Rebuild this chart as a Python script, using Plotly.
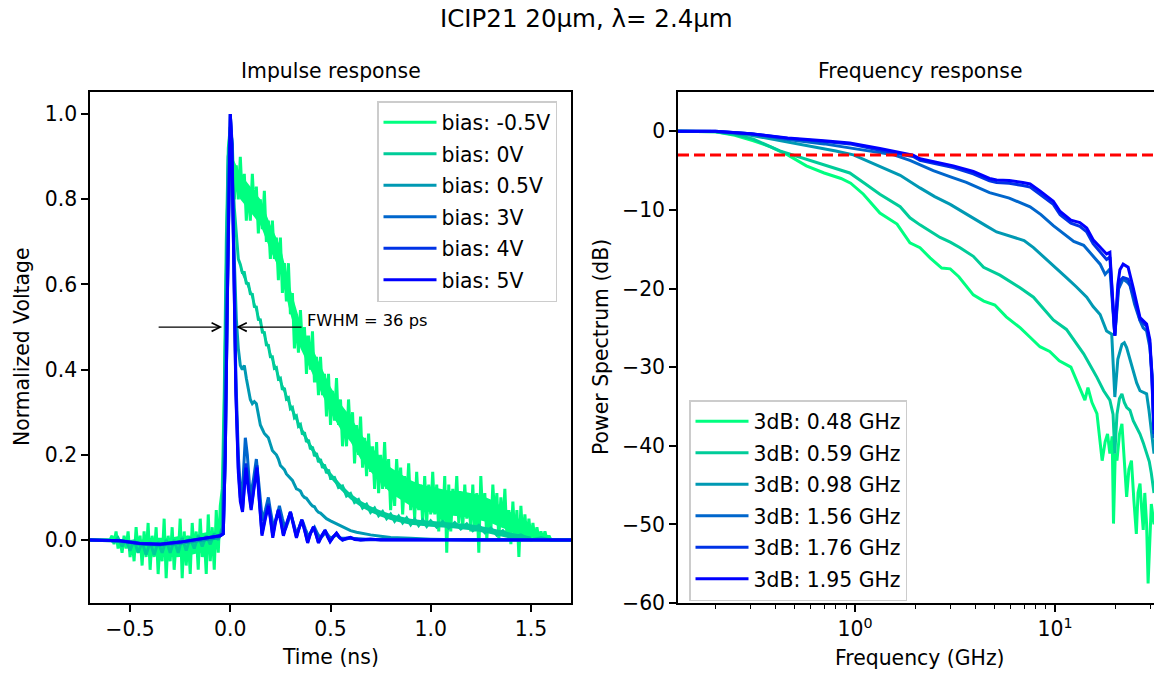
import math
import plotly.graph_objects as go

FIG_W, FIG_H = 1154, 675
FONT = "DejaVu Sans"

# ---------------- Impulse response (time in ns, normalized voltage) ----------------
T_M05 = [-0.70, -0.65,
         -0.60, -0.59, -0.58, -0.57, -0.56, -0.55, -0.54, -0.53, -0.52, -0.51,
         -0.50, -0.49, -0.48, -0.47, -0.46, -0.45, -0.44, -0.43, -0.42, -0.41,
         -0.40, -0.39, -0.38, -0.37, -0.36, -0.35, -0.34, -0.33, -0.32, -0.31,
         -0.30, -0.29, -0.28, -0.27, -0.26, -0.25, -0.24, -0.23, -0.22, -0.21,
         -0.20, -0.19, -0.18, -0.17, -0.16, -0.15, -0.14, -0.13, -0.12, -0.11,
         -0.10, -0.09, -0.08, -0.07, -0.06, -0.05, -0.04, -0.03, -0.02, -0.01,
         0.00, 0.01, 0.02, 0.03, 0.04, 0.05, 0.06, 0.07, 0.08, 0.09,
         0.10, 0.11, 0.12, 0.13, 0.14, 0.15, 0.16, 0.17, 0.18, 0.19,
         0.20, 0.21, 0.22, 0.23, 0.24, 0.25, 0.26, 0.27, 0.28, 0.29,
         0.30, 0.31, 0.32, 0.33, 0.34, 0.35, 0.36, 0.37, 0.38, 0.39,
         0.40, 0.41, 0.42, 0.43, 0.44, 0.45, 0.46, 0.47, 0.48, 0.49,
         0.50, 0.51, 0.52, 0.53, 0.54, 0.55, 0.56, 0.57, 0.58, 0.59,
         0.60, 0.61, 0.62, 0.63, 0.64, 0.65, 0.66, 0.67, 0.68, 0.69,
         0.70, 0.71, 0.72, 0.73, 0.74, 0.75, 0.76, 0.77, 0.78, 0.79,
         0.80, 0.81, 0.82, 0.83, 0.84, 0.85, 0.86, 0.87, 0.88, 0.89,
         0.90, 0.91, 0.92, 0.93, 0.94, 0.95, 0.96, 0.97, 0.98, 0.99,
         1.00, 1.01, 1.02, 1.03, 1.04, 1.05, 1.06, 1.07, 1.08, 1.09,
         1.10, 1.11, 1.12, 1.13, 1.14, 1.15, 1.16, 1.17, 1.18, 1.19,
         1.20, 1.21, 1.22, 1.23, 1.24, 1.25, 1.26, 1.27, 1.28, 1.29,
         1.30, 1.31, 1.32, 1.33, 1.34, 1.35, 1.36, 1.37, 1.38, 1.39,
         1.40, 1.41, 1.42, 1.43, 1.44, 1.45, 1.46, 1.47, 1.48, 1.49,
         1.50, 1.51, 1.52, 1.53, 1.54, 1.55, 1.56, 1.57, 1.58, 1.59,
         1.60, 1.65, 1.70]
V_M05 = [0.00, 0.00,
         0.00, 0.01, -0.01, 0.02, -0.02, 0.00, -0.03, 0.01, -0.02, 0.02,
         -0.04, 0.00, -0.05, 0.03, -0.03, 0.01, -0.06, 0.02, -0.04, 0.04,
         -0.07, 0.01, -0.04, 0.03, -0.08, 0.00, -0.05, 0.05, -0.09, 0.01,
         -0.05, 0.03, -0.07, 0.00, -0.04, 0.05, -0.09, 0.02, -0.06, 0.01,
         -0.08, 0.04, -0.03, 0.02, -0.07, 0.05, -0.04, 0.01, -0.08, 0.06,
         -0.05, 0.03, -0.07, 0.07, -0.03, 0.08, 0.12, 0.35, 0.70, 0.92,
         0.97, 0.93, 0.80, 0.88, 0.80, 0.90, 0.80, 0.86, 0.75, 0.83,
         0.75, 0.86, 0.77, 0.83, 0.72, 0.80, 0.73, 0.82, 0.70, 0.75,
         0.66, 0.75, 0.66, 0.71, 0.61, 0.71, 0.58, 0.65, 0.56, 0.65,
         0.53, 0.58, 0.45, 0.52, 0.44, 0.54, 0.45, 0.50, 0.39, 0.48,
         0.40, 0.49, 0.37, 0.43, 0.34, 0.43, 0.34, 0.39, 0.29, 0.39,
         0.27, 0.35, 0.28, 0.38, 0.27, 0.33, 0.22, 0.30, 0.22, 0.33,
         0.24, 0.30, 0.18, 0.27, 0.20, 0.29, 0.17, 0.24, 0.15, 0.25,
         0.16, 0.22, 0.12, 0.23, 0.11, 0.20, 0.12, 0.23, 0.12, 0.19,
         0.07, 0.16, 0.08, 0.19, 0.11, 0.17, 0.06, 0.15, 0.09, 0.18,
         0.07, 0.13, 0.05, 0.16, 0.07, 0.13, 0.04, 0.15, 0.04, 0.13,
         0.06, 0.16, 0.06, 0.13, 0.02, 0.11, 0.04, 0.15, -0.03, 0.13,
         0.02, 0.12, 0.06, 0.15, 0.04, 0.11, 0.03, 0.13, 0.05, 0.11,
         0.02, 0.13, 0.02, 0.11, -0.03, 0.15, 0.05, 0.11, 0.00, 0.09,
         0.02, 0.13, 0.05, 0.11, 0.00, 0.10, 0.03, 0.12, 0.01, 0.07,
         -0.01, 0.09, 0.00, 0.07, -0.04, 0.08, 0.00, 0.06, 0.00, 0.05,
         0.00, 0.04, 0.00, 0.03, 0.00, 0.02, 0.00, 0.02, 0.00, 0.01,
         0.00, 0.00, 0.00]

# dense core of the noisy -0.5 V trace (inner edges of the band)
T_CORE_PRE = [-0.50, -0.45, -0.40, -0.35, -0.30, -0.25, -0.20, -0.15, -0.10, -0.06]
HI_CORE_PRE = [-0.005, 0.0, 0.005, 0.005, 0.005, 0.01, 0.01, 0.015, 0.02, 0.02]
LO_CORE_PRE = [-0.02, -0.03, -0.035, -0.04, -0.04, -0.04, -0.035, -0.03, -0.03, -0.02]
T_CORE = [0.01, 0.05, 0.10, 0.15, 0.20, 0.25, 0.30, 0.35, 0.40, 0.45,
          0.50, 0.55, 0.60, 0.65, 0.70, 0.75, 0.80, 0.85, 0.90, 0.95,
          1.00, 1.05, 1.10, 1.15, 1.20, 1.25, 1.30, 1.35, 1.40, 1.45,
          1.50, 1.55]
HI_CORE = [0.90, 0.86, 0.83, 0.80, 0.74, 0.69, 0.59, 0.51, 0.46, 0.41,
           0.36, 0.32, 0.29, 0.25, 0.22, 0.195, 0.17, 0.155, 0.14, 0.13,
           0.125, 0.12, 0.115, 0.115, 0.11, 0.105, 0.095, 0.08, 0.065, 0.045,
           0.03, 0.015]
LO_CORE = [0.84, 0.80, 0.77, 0.74, 0.68, 0.63, 0.53, 0.45, 0.40, 0.35,
           0.30, 0.26, 0.23, 0.19, 0.16, 0.135, 0.11, 0.095, 0.08, 0.07,
           0.065, 0.06, 0.057, 0.055, 0.052, 0.046, 0.04, 0.03, 0.02, 0.012,
           0.006, 0.002]

T_0V = [-0.70, -0.60, -0.58, -0.56, -0.54, -0.52, -0.50, -0.48, -0.46, -0.44,
        -0.42, -0.40, -0.38, -0.36, -0.34, -0.32, -0.30, -0.28, -0.26, -0.24,
        -0.22, -0.20, -0.18, -0.16, -0.14, -0.12, -0.10, -0.08, -0.06, -0.04,
        -0.03, -0.02, -0.01, 0.00, 0.01, 0.02, 0.03, 0.04, 0.05, 0.06,
        0.07, 0.08, 0.09, 0.10, 0.11, 0.12, 0.13, 0.14, 0.15, 0.16,
        0.17, 0.18, 0.19, 0.20, 0.21, 0.22, 0.23, 0.24, 0.25, 0.26,
        0.27, 0.28, 0.29, 0.30, 0.31, 0.32, 0.33, 0.34, 0.35, 0.36,
        0.37, 0.38, 0.39, 0.40, 0.41, 0.42, 0.43, 0.44, 0.45, 0.46,
        0.47, 0.48, 0.49, 0.50, 0.52, 0.54, 0.56, 0.58, 0.60, 0.62,
        0.64, 0.66, 0.68, 0.70, 0.72, 0.74, 0.76, 0.78, 0.80, 0.82,
        0.84, 0.86, 0.88, 0.90, 0.92, 0.94, 0.96, 0.98, 1.00, 1.03,
        1.06, 1.09, 1.12, 1.15, 1.18, 1.21, 1.24, 1.27, 1.30, 1.33,
        1.36, 1.40, 1.45, 1.50, 1.55, 1.60, 1.70]
V_0V = [0.0, 0.0, -0.005, 0.005, -0.015, 0.0, -0.025, 0.0, -0.03, -0.005,
        -0.035, -0.005, -0.035, -0.005, -0.03, 0.0, -0.03, 0.0, -0.03, 0.005,
        -0.025, 0.005, -0.02, 0.01, -0.015, 0.01, -0.01, 0.015, 0.0, 0.03,
        0.30, 0.65, 0.90, 0.95, 0.88, 0.78, 0.71, 0.66, 0.647, 0.628,
        0.628, 0.603, 0.602, 0.578, 0.577, 0.548, 0.547, 0.518, 0.517, 0.488,
        0.487, 0.458, 0.457, 0.430, 0.430, 0.403, 0.405, 0.378, 0.380, 0.353,
        0.357, 0.331, 0.334, 0.308, 0.311, 0.287, 0.291, 0.267, 0.271, 0.248,
        0.253, 0.230, 0.235, 0.213, 0.219, 0.197, 0.204, 0.183, 0.190, 0.169,
        0.177, 0.157, 0.165, 0.145, 0.147, 0.123, 0.127, 0.103, 0.109, 0.088,
        0.095, 0.075, 0.084, 0.065, 0.075, 0.057, 0.067, 0.050, 0.061, 0.044,
        0.056, 0.040, 0.052, 0.036, 0.049, 0.034, 0.047, 0.032, 0.045, 0.030,
        0.043, 0.028, 0.041, 0.026, 0.038, 0.022, 0.034, 0.017, 0.028, 0.011,
        0.022, 0.004, 0.012, 0.0, 0.005, 0.0, 0.0]

# dense core of the 0 V band
T_CORE_0V = [0.05, 0.10, 0.15, 0.20, 0.25, 0.30, 0.35, 0.40, 0.45, 0.50,
             0.55, 0.60, 0.65, 0.70, 0.75, 0.80, 0.85, 0.90, 0.95, 1.00,
             1.10, 1.20, 1.30, 1.40, 1.50]
HI_CORE_0V = [0.647, 0.592, 0.517, 0.444, 0.380, 0.322, 0.271, 0.227, 0.190, 0.159,
              0.132, 0.109, 0.092, 0.079, 0.069, 0.061, 0.055, 0.050, 0.047, 0.045,
              0.042, 0.037, 0.028, 0.017, 0.008]
LO_CORE_0V = [0.633, 0.578, 0.503, 0.430, 0.366, 0.308, 0.257, 0.213, 0.176, 0.145,
              0.118, 0.095, 0.078, 0.065, 0.055, 0.047, 0.041, 0.036, 0.033, 0.031,
              0.028, 0.023, 0.014, 0.003, 0.0]

T_05V = [-0.70, -0.55, -0.45, -0.35, -0.25, -0.15, -0.06, -0.04, -0.03, -0.02,
         -0.01, 0.00, 0.01, 0.02, 0.03, 0.04, 0.05, 0.06, 0.07, 0.08,
         0.09, 0.10, 0.11, 0.12, 0.13, 0.14, 0.15, 0.16, 0.17, 0.18,
         0.19, 0.20, 0.21, 0.22, 0.23, 0.24, 0.25, 0.26, 0.27, 0.28,
         0.29, 0.30, 0.31, 0.32, 0.33, 0.34, 0.35, 0.36, 0.37, 0.38,
         0.39, 0.40, 0.41, 0.42, 0.43, 0.44, 0.45, 0.46, 0.48, 0.50,
         0.52, 0.54, 0.56, 0.58, 0.60, 0.63, 0.66, 0.70, 0.75, 0.80,
         0.90, 1.00, 1.20, 1.70]
V_05V = [0.0, -0.003, -0.01, -0.012, -0.008, -0.002, 0.005, 0.02, 0.25, 0.62,
         0.90, 0.97, 0.85, 0.66, 0.52, 0.45, 0.41, 0.40, 0.41, 0.38,
         0.35, 0.33, 0.32, 0.325, 0.32, 0.29, 0.27, 0.26, 0.25, 0.245,
         0.24, 0.225, 0.21, 0.205, 0.20, 0.19, 0.175, 0.17, 0.165, 0.155,
         0.15, 0.145, 0.14, 0.13, 0.12, 0.118, 0.115, 0.105, 0.10, 0.098,
         0.09, 0.085, 0.08, 0.078, 0.07, 0.065, 0.063, 0.058, 0.05, 0.045,
         0.04, 0.035, 0.03, 0.027, 0.022, 0.018, 0.015, 0.012, 0.009, 0.006,
         0.004, 0.002, 0.0, 0.0]

T_3V = [-0.70, -0.55, -0.45, -0.35, -0.25, -0.15, -0.05, -0.035, -0.025, -0.015,
        -0.005, 0.00, 0.008, 0.018, 0.028, 0.04, 0.05, 0.058, 0.066, 0.075,
        0.085, 0.10, 0.115, 0.13, 0.145, 0.16, 0.175, 0.19, 0.20, 0.215,
        0.23, 0.245, 0.26, 0.275, 0.29, 0.30, 0.315, 0.33, 0.345, 0.36,
        0.375, 0.39, 0.405, 0.42, 0.435, 0.45, 0.465, 0.475, 0.49, 0.50,
        0.515, 0.53, 0.55, 0.60, 0.70, 1.70]
V_3V = [0.0, -0.002, -0.008, -0.01, -0.005, 0.003, 0.01, 0.015, 0.2, 0.55,
        0.9, 1.0, 0.94, 0.62, 0.38, 0.20, 0.12, 0.09, 0.17, 0.24,
        0.20, 0.10, 0.14, 0.19, 0.12, 0.045, 0.07, 0.10, 0.07, 0.03,
        0.05, 0.08, 0.05, 0.025, 0.045, 0.065, 0.04, 0.015, 0.03, 0.045,
        0.025, 0.008, 0.02, 0.03, 0.015, 0.004, 0.012, 0.02, 0.01, 0.004,
        0.008, 0.012, 0.004, 0.004, 0.001, 0.0]

T_4V = [-0.70, -0.55, -0.45, -0.35, -0.25, -0.15, -0.05, -0.035, -0.025, -0.015,
        -0.005, 0.00, 0.008, 0.018, 0.028, 0.04, 0.05, 0.061, 0.07, 0.078,
        0.09, 0.104, 0.118, 0.133, 0.145, 0.158, 0.175, 0.19, 0.20, 0.212,
        0.225, 0.24, 0.253, 0.265, 0.283, 0.30, 0.315, 0.33, 0.345, 0.357,
        0.372, 0.386, 0.40, 0.415, 0.428, 0.44, 0.457, 0.473, 0.485, 0.498,
        0.515, 0.53, 0.545, 0.56, 0.60, 0.65, 0.75, 1.70]
V_4V = [0.0, -0.002, -0.008, -0.01, -0.005, 0.003, 0.01, 0.015, 0.2, 0.56,
        0.91, 1.0, 0.93, 0.61, 0.35, 0.17, 0.10, 0.07, 0.13, 0.18,
        0.13, 0.075, 0.125, 0.175, 0.095, 0.015, 0.055, 0.085, 0.055, 0.01,
        0.045, 0.072, 0.045, 0.012, 0.042, 0.066, 0.037, 0.007, 0.032, 0.048,
        0.022, -0.005, 0.016, 0.031, 0.013, -0.006, 0.011, 0.023, 0.009, -0.003,
        0.008, 0.016, 0.006, 0.0, 0.005, 0.0, 0.001, 0.0]

T_5V = [-0.70, -0.55, -0.45, -0.35, -0.25, -0.15, -0.05, -0.035, -0.025, -0.015,
        -0.005, 0.00, 0.008, 0.018, 0.028, 0.04, 0.05, 0.061, 0.07, 0.078,
        0.09, 0.104, 0.118, 0.133, 0.145, 0.158, 0.175, 0.19, 0.20, 0.212,
        0.225, 0.24, 0.253, 0.265, 0.283, 0.30, 0.315, 0.33, 0.345, 0.357,
        0.372, 0.386, 0.40, 0.415, 0.428, 0.44, 0.457, 0.473, 0.485, 0.498,
        0.515, 0.53, 0.545, 0.56, 0.58, 0.60, 0.62, 0.65, 0.70, 0.75, 1.70]
V_5V = [0.0, -0.002, -0.008, -0.01, -0.005, 0.003, 0.01, 0.015, 0.2, 0.56,
        0.92, 1.0, 0.93, 0.60, 0.34, 0.16, 0.09, 0.066, 0.12, 0.17,
        0.12, 0.07, 0.12, 0.17, 0.09, 0.01, 0.05, 0.08, 0.05, 0.005,
        0.04, 0.07, 0.04, 0.01, 0.04, 0.066, 0.035, 0.005, 0.03, 0.047,
        0.02, -0.007, 0.015, 0.031, 0.012, -0.007, 0.01, 0.023, 0.008, -0.004,
        0.008, 0.016, 0.006, 0.0, 0.004, 0.006, 0.001, 0.0, 0.002, 0.0, 0.0]

BIAS_LABELS = ["bias: -0.5V", "bias: 0V", "bias: 0.5V", "bias: 3V", "bias: 4V", "bias: 5V"]

# FWHM annotation (ns, normalized voltage)
FWHM_TEXT = "FWHM = 36 ps"
FWHM_LEVEL = 0.5
FWHM_LEFT_TAIL, FWHM_LEFT_HEAD = -0.365, -0.041
FWHM_RIGHT_TAIL, FWHM_RIGHT_HEAD = 0.363, 0.030

# ---------------- Frequency response (GHz, dB) ----------------
F_048 = [0.13, 0.16, 0.20, 0.25, 0.31, 0.38, 0.46, 0.57, 0.70, 0.85,
         0.95, 1.10, 1.33, 1.62, 1.88, 2.11, 2.37, 2.71, 2.99, 3.30,
         3.90, 4.40, 5.00, 5.70, 6.70, 7.50, 8.40, 9.40, 10.5, 12.0,
         13.3, 14.1, 14.6, 15.3, 16.2, 17.2, 17.8, 18.3, 18.8, 19.3,
         19.6, 20.0, 20.4, 21.0, 21.6, 22.2, 22.8, 23.4, 24.1, 24.8,
         25.5, 26.0, 26.6, 27.1, 27.6, 28.1, 28.7, 29.2, 29.7, 30.3, 31.25]
P_048 = [0.0, 0.0, -0.05, -0.5, -1.2, -2.0, -3.0, -4.4, -5.3, -6.0,
         -6.6, -8.0, -10.4, -11.8, -14.2, -14.8, -16.1, -17.4, -17.5, -18.5,
         -20.8, -21.6, -22.1, -23.6, -25.0, -26.2, -27.4, -28.0, -29.2, -30.0,
         -32.6, -34.2, -32.6, -34.5, -35.9, -41.9, -39.5, -38.5, -41.0, -38.8,
         -49.9, -41.0, -41.9, -38.5, -37.2, -42.0, -46.5, -43.0, -41.9, -47.0,
         -51.2, -46.0, -44.8, -48.0, -50.7, -46.0, -50.0, -57.5, -52.0, -47.4, -50.0]

F_059 = [0.13, 0.16, 0.20, 0.25, 0.31, 0.42, 0.53, 0.70, 0.94, 1.10,
         1.33, 1.68, 1.88, 2.11, 2.66, 2.99, 3.35, 3.90, 4.39, 5.30,
         6.68, 7.80, 9.80, 11.4, 12.5, 13.9, 15.0, 16.2, 17.5, 18.8,
         19.5, 19.9, 20.4, 21.0, 21.6, 22.2, 22.8, 23.7, 24.6, 25.5,
         26.6, 27.6, 28.7, 29.6, 30.3, 31.25]
P_059 = [0.0, 0.0, -0.05, -0.4, -1.0, -2.5, -3.3, -4.3, -5.3, -6.5,
         -8.0, -9.6, -11.0, -11.9, -13.5, -14.1, -14.8, -15.9, -17.3, -18.3,
         -19.9, -21.1, -24.0, -25.2, -26.6, -28.3, -29.8, -31.3, -33.0, -34.2,
         -36.0, -41.0, -36.0, -34.0, -33.4, -34.5, -35.1, -35.5, -36.8, -37.5,
         -38.5, -39.6, -41.0, -42.0, -43.5, -46.0]

F_098 = [0.13, 0.16, 0.20, 0.30, 0.45, 0.60, 0.80, 0.98, 1.20, 1.50,
         1.68, 2.11, 2.50, 2.99, 3.50, 3.90, 4.50, 5.10, 6.00, 7.00,
         7.80, 9.00, 10.0, 11.4, 12.8, 14.4, 15.5, 16.8, 18.1, 19.2,
         19.9, 20.6, 21.6, 22.2, 22.8, 23.6, 24.6, 25.6, 26.6, 27.6,
         28.7, 29.5, 30.3, 31.25]
P_098 = [0.0, 0.0, -0.03, -0.5, -1.3, -1.9, -2.5, -3.0, -4.0, -5.0,
         -5.6, -7.2, -8.3, -9.3, -10.3, -11.0, -12.0, -12.8, -13.4, -13.9,
         -14.8, -16.2, -17.2, -18.6, -19.8, -21.1, -22.3, -23.3, -25.4, -25.8,
         -33.8, -29.0, -27.1, -26.9, -27.5, -28.8, -30.4, -32.0, -33.0, -33.2,
         -33.4, -35.5, -38.5, -41.0]

F_156 = [0.13, 0.16, 0.20, 0.30, 0.45, 0.70, 1.00, 1.30, 1.56, 1.88,
         2.46, 3.00, 3.60, 4.70, 5.90, 7.50, 8.50, 9.80, 11.0, 12.4,
         13.9, 15.5, 16.8, 17.8, 18.8, 19.9, 20.8, 21.9, 23.0, 23.7,
         25.0, 26.6, 27.6, 28.7, 29.8, 30.6, 31.25]
P_156 = [0.0, 0.0, -0.02, -0.3, -1.0, -1.6, -2.2, -2.7, -3.0, -3.7,
         -5.0, -5.8, -6.5, -7.8, -8.5, -9.6, -10.6, -12.0, -13.0, -14.0,
         -14.5, -15.8, -16.9, -18.2, -17.5, -26.0, -20.0, -18.8, -19.2, -19.6,
         -22.0, -24.1, -25.0, -25.4, -27.5, -31.0, -39.0]

F_176 = [0.13, 0.16, 0.20, 0.30, 0.46, 0.70, 0.94, 1.33, 1.70, 1.95,
         2.11, 2.66, 3.10, 3.90, 4.70, 5.10, 5.90, 6.90, 7.50, 8.40,
         9.80, 10.6, 12.0, 13.3, 14.4, 15.5, 16.8, 18.1, 18.8, 19.9,
         20.6, 21.1, 21.9, 23.2, 24.6, 26.6, 28.7, 29.8, 30.5, 31.25]
P_176 = [0.0, 0.0, 0.0, -0.3, -0.9, -1.3, -1.6, -2.4, -2.95, -3.2,
         -3.7, -4.3, -4.6, -5.4, -6.3, -6.5, -6.6, -6.9, -7.1, -8.0,
         -9.3, -10.6, -11.7, -12.1, -12.8, -14.3, -15.4, -16.3, -16.0, -26.0,
         -20.5, -19.0, -18.6, -18.8, -20.8, -24.0, -24.8, -27.0, -31.5, -38.5]

F_195 = [0.13, 0.16, 0.20, 0.30, 0.46, 0.70, 0.94, 1.33, 1.70, 1.95,
         2.11, 2.66, 3.10, 3.90, 4.70, 5.10, 5.90, 6.90, 7.50, 8.40,
         9.80, 10.6, 12.0, 13.3, 14.4, 15.5, 16.8, 18.1, 18.8, 19.9,
         20.6, 21.1, 21.9, 23.2, 24.6, 26.6, 28.7, 29.8, 30.5, 31.25]
P_195 = [0.0, 0.0, 0.0, -0.3, -0.85, -1.2, -1.5, -2.2, -2.8, -3.05,
         -3.5, -4.1, -4.4, -5.1, -6.0, -6.2, -6.25, -6.5, -6.7, -7.6,
         -8.9, -10.2, -11.3, -11.6, -12.3, -13.8, -14.8, -15.6, -15.4, -26.0,
         -19.5, -17.6, -16.9, -17.3, -19.9, -23.7, -24.5, -26.5, -31.0, -38.0]

BW_LABELS = ["3dB: 0.48 GHz", "3dB: 0.59 GHz", "3dB: 0.98 GHz",
             "3dB: 1.56 GHz", "3dB: 1.76 GHz", "3dB: 1.95 GHz"]
THRESH_DB = -3

# winter colormap, 6 evenly spaced samples
COLORS = ["#00ff80", "#00cc99", "#0099b3", "#0066cc", "#0033e6", "#0000ff"]

TITLE = "ICIP21 20µm, λ= 2.4µm"

# ---------------- Layout geometry (pixels) ----------------
L_X0, L_X1 = 90, 571
R_X0 = 678
AX_Y0, AX_Y1 = 92, 603


def px(x):
    return x / FIG_W


def py(y):
    return 1 - y / FIG_H


fig = go.Figure()

CORES = {
    0: [(T_CORE_PRE, LO_CORE_PRE, HI_CORE_PRE), (T_CORE, LO_CORE, HI_CORE)],
    1: [(T_CORE_0V, LO_CORE_0V, HI_CORE_0V)],
}

imp = [(T_M05, V_M05), (T_0V, V_0V), (T_05V, V_05V), (T_3V, V_3V), (T_4V, V_4V), (T_5V, V_5V)]
for i, (t, v) in enumerate(imp):
    for tc, lo, hi in CORES.get(i, []):
        fig.add_trace(go.Scatter(x=list(tc) + list(reversed(tc)), y=list(hi) + list(reversed(lo)),
                                 mode="lines", fill="toself", fillcolor=COLORS[i],
                                 line=dict(width=0, color=COLORS[i]), showlegend=False,
                                 hoverinfo="skip", xaxis="x", yaxis="y"))
    fig.add_trace(go.Scatter(x=t, y=v, mode="lines", name=BIAS_LABELS[i],
                             line=dict(color=COLORS[i], width=3),
                             xaxis="x", yaxis="y", legend="legend",
                             legendgroup="a%d" % i))

frq = [(F_048, P_048), (F_059, P_059), (F_098, P_098), (F_156, P_156), (F_176, P_176), (F_195, P_195)]
for i, (f, p) in enumerate(frq):
    fig.add_trace(go.Scatter(x=f, y=p, mode="lines", name=BW_LABELS[i],
                             line=dict(color=COLORS[i], width=3),
                             xaxis="x2", yaxis="y2", legend="legend2",
                             legendgroup="b%d" % i))

# -3 dB threshold line
fig.add_shape(type="line", xref="x2 domain", yref="y2", x0=0, x1=1, y0=THRESH_DB, y1=THRESH_DB,
              line=dict(color="#ff0000", width=3, dash="11px,5px"))

tick_font = dict(family=FONT, size=20.4, color="black")
common_axis = dict(showline=True, linecolor="black", linewidth=1.6, ticks="outside",
                   ticklen=7, tickwidth=1.6, tickcolor="black", showgrid=False,
                   zeroline=False, tickfont=tick_font, automargin=False)

fig.update_layout(
    width=FIG_W, height=FIG_H, autosize=False,
    margin=dict(l=0, r=0, t=0, b=0, pad=0, autoexpand=False),
    paper_bgcolor="white", plot_bgcolor="white",
    xaxis=dict(domain=[px(L_X0), px(L_X1)], anchor="y", range=[-0.7, 1.7],
               tickvals=[-0.5, 0.0, 0.5, 1.0, 1.5], tickformat=".1f", mirror=True, **common_axis),
    yaxis=dict(domain=[py(AX_Y1), py(AX_Y0)], anchor="x", range=[-0.148, 1.052],
               tickvals=[0.0, 0.2, 0.4, 0.6, 0.8, 1.0], tickformat=".1f", mirror=True, **common_axis),
    xaxis2=dict(domain=[px(R_X0), 1.0], anchor="y2", type="log",
                range=[math.log10(0.13), math.log10(31.25)],
                tickvals=[1, 10], ticktext=["10<sup>0</sup>", "10<sup>1</sup>"], mirror=True,
                minor=dict(tickvals=[0.2, 0.3, 0.4, 0.5, 0.6, 0.7, 0.8, 0.9,
                                     2, 3, 4, 5, 6, 7, 8, 9, 20, 30],
                           ticks="outside", ticklen=4, tickwidth=1.2, tickcolor="black"),
                **common_axis),
    yaxis2=dict(domain=[py(AX_Y1), py(AX_Y0)], anchor="x2", range=[-60, 5],
                tickvals=[0, -10, -20, -30, -40, -50, -60], mirror=False, **common_axis),
    legend=dict(x=px(377), y=py(101), xanchor="left", yanchor="top",
                bgcolor="rgba(255,255,255,0.8)", bordercolor="#cccccc", borderwidth=1.5,
                font=dict(family=FONT, size=20.4, color="black"), tracegroupgap=2,
                itemwidth=53),
    legend2=dict(x=px(689), y=py(400), xanchor="left", yanchor="top",
                 bgcolor="rgba(255,255,255,0.8)", bordercolor="#cccccc", borderwidth=1.5,
                 font=dict(family=FONT, size=20.4, color="black"), tracegroupgap=2,
                 itemwidth=53),
    showlegend=True,
)

text_font = dict(family=FONT, size=20.4, color="black")
annos = [
    dict(text=TITLE, x=px(586.5), y=py(19), font=dict(family=FONT, size=24.5, color="black")),
    dict(text="Impulse response", x=px(330.5), y=py(71), font=text_font),
    dict(text="Frequency response", x=px(920), y=py(71), font=text_font),
    dict(text="Time (ns)", x=px(330.5), y=py(657), font=text_font),
    dict(text="Frequency (GHz)", x=px(920), y=py(658), font=text_font),
    dict(text="Normalized Voltage", x=px(22), y=py(347), font=text_font, textangle=-90),
    dict(text="Power Spectrum (dB)", x=px(601), y=py(347), font=text_font, textangle=-90),
]
for a in annos:
    fig.add_annotation(xref="paper", yref="paper", showarrow=False,
                       xanchor="center", yanchor="middle", **a)

# FWHM arrows and label
for tail, head in [(FWHM_LEFT_TAIL, FWHM_LEFT_HEAD), (FWHM_RIGHT_TAIL, FWHM_RIGHT_HEAD)]:
    fig.add_annotation(xref="x", yref="y", axref="x", ayref="y",
                       x=head, y=FWHM_LEVEL, ax=tail, ay=FWHM_LEVEL, text="",
                       showarrow=True, arrowhead=5, arrowsize=1.3, arrowwidth=1.3,
                       arrowcolor="black", standoff=0)
fig.add_annotation(xref="x", yref="y", x=0.372, y=0.516, text=FWHM_TEXT, showarrow=False,
                   xanchor="left", yanchor="middle",
                   font=dict(family=FONT, size=16.3, color="black"))

POST = (
    "var gd=document.getElementsByClassName('plotly-graph-div')[0];"
    "var h=document.documentElement,b=document.body;"
    "h.style.margin='0';b.style.margin='0';h.style.padding='0';b.style.padding='0';"
    "h.style.overflow='hidden';b.style.overflow='hidden';"
    "h.style.height='675px';b.style.height='675px';"
    "gd.style.position='absolute';gd.style.left='0px';gd.style.top='0px';"
)

fig.write_html("out.html", include_plotlyjs=True,
               config={"displayModeBar": False, "responsive": False},
               post_script=POST)
